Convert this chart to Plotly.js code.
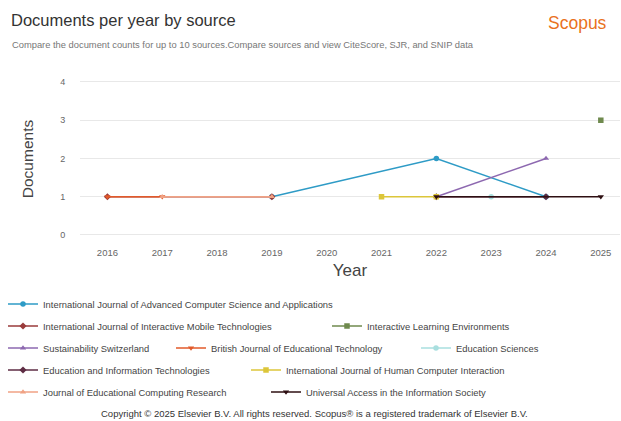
<!DOCTYPE html>
<html>
<head>
<meta charset="utf-8">
<script src="https://cdn.plot.ly/plotly-3.0.1.min.js"></script>
<style>
html,body{margin:0;padding:0;background:#fff;}
#chart{width:621px;height:421px;}
</style>
</head>
<body>
<div id="chart"></div>
<script>
const years = [2016, 2017, 2018, 2019, 2020, 2021, 2022, 2023, 2024, 2025];
const sourceNames = [
  "International Journal of Advanced Computer Science and Applications",
  "International Journal of Interactive Mobile Technologies",
  "Interactive Learning Environments",
  "Sustainability Switzerland",
  "British Journal of Educational Technology",
  "Education Sciences",
  "Education and Information Technologies",
  "International Journal of Human Computer Interaction",
  "Journal of Educational Computing Research",
  "Universal Access in the Information Society"
];
const ijacsaDocs = [null, null, null, 1, null, null, 2, null, 1, null];
const ijimtDocs  = [1, null, null, 1, null, null, null, null, null, null];
const ileDocs    = [null, null, null, null, null, null, null, null, null, 3];
const sustDocs   = [null, null, null, null, null, null, 1, null, 2, null];
const bjetDocs   = [1, 1, null, null, null, null, null, null, null, null];
const edusciDocs = [null, null, null, null, null, null, null, 1, null, null];
const eitDocs    = [null, null, null, null, null, null, 1, null, 1, null];
const ijhciDocs  = [null, null, null, null, null, 1, 1, null, null, null];
const jecrDocs   = [null, 1, null, 1, null, null, null, null, null, null];
const uaisDocs   = [null, null, null, null, null, null, 1, null, null, 1];
const seriesDocs = [ijacsaDocs, ijimtDocs, ileDocs, sustDocs, bjetDocs, edusciDocs, eitDocs, ijhciDocs, jecrDocs, uaisDocs];

const colors = ["#2e9bc6", "#9a3b3b", "#6f8a4e", "#8d68b0", "#e25a2a", "#a9dfdf", "#5e2c44", "#dcc63a", "#f0a284", "#2e0f12"];
const symbols = ["circle", "diamond", "square", "triangle-up", "triangle-down", "circle", "diamond", "square", "triangle-up", "triangle-down"];

// legend placement (pixel): [textStartX, rowCenterY]
const legendPos = [[47,304],[47,326],[371,326],[47,348],[215,348],[460,348],[47,370],[290,370],[47,392],[310,392]];

const W = 621, H = 421;
const mL = 80, mR = 1, mT = 77, mB = 180;
const pw = W - mL - mR, ph = H - mT - mB;

const traces = seriesDocs.map((d, i) => ({
  type: "scatter",
  mode: "lines+markers",
  x: years,
  y: d,
  name: sourceNames[i],
  connectgaps: true,
  line: {color: colors[i], width: 1.5},
  marker: {color: colors[i], symbol: symbols[i], size: 5.5},
  legend: i === 0 ? "legend" : "legend" + (i + 1)
}));

const layout = {
  width: W, height: H,
  margin: {l: mL, r: mR, t: mT, b: mB, pad: 0},
  paper_bgcolor: "#fff", plot_bgcolor: "#fff",
  font: {family: "Liberation Sans, Arial, sans-serif", color: "#555"},
  showlegend: true,
  xaxis: {
    range: [2015.5, 2025.35],
    tickmode: "array", tickvals: years, ticktext: years.map(String),
    showgrid: false, zeroline: false, showline: false,
    ticks: "outside", ticklen: 3, tickcolor: "rgba(0,0,0,0)",
    tickfont: {size: 9.5, color: "#666"},
    title: {text: "Year", font: {size: 17, color: "#444"}, standoff: 6},
    fixedrange: true
  },
  yaxis: {
    range: [-0.157, 4.13],
    tickvals: [0, 1, 2, 3, 4],
    showgrid: true, gridcolor: "#e8e8e8", gridwidth: 1,
    zeroline: false, showline: false,
    ticks: "outside", ticklen: 12, tickcolor: "rgba(0,0,0,0)",
    tickfont: {size: 9, color: "#666"},
    title: {text: "Documents", font: {size: 15.5, color: "#444"}, standoff: 22},
    fixedrange: true
  },
  annotations: [
    {xref: "paper", yref: "paper", x: (9 - mL) / pw, y: (H - mB - 20) / ph, xanchor: "left", yanchor: "middle",
     text: "Documents per year by source", showarrow: false, font: {size: 16.5, color: "#333"}},
    {xref: "paper", yref: "paper", x: (10 - mL) / pw, y: (H - mB - 45) / ph, xanchor: "left", yanchor: "middle",
     text: "Compare the document counts for up to 10 sources.Compare sources and view CiteScore, SJR, and SNIP data",
     showarrow: false, font: {size: 9.35, color: "#777"}},
    {xref: "paper", yref: "paper", x: (609 - mL) / pw, y: (H - mB - 23) / ph, xanchor: "right", yanchor: "middle",
     text: "Scopus", showarrow: false, font: {size: 17.5, color: "#e9711c"}},
    {xref: "paper", yref: "paper", x: (314 - mL) / pw, y: (H - mB - 413) / ph, xanchor: "center", yanchor: "middle",
     text: "Copyright © 2025 Elsevier B.V. All rights reserved. Scopus® is a registered trademark of Elsevier B.V.",
     showarrow: false, font: {size: 9.5, color: "#333"}}
  ]
};

legendPos.forEach((p, i) => {
  const key = i === 0 ? "legend" : "legend" + (i + 1);
  layout[key] = {
    orientation: "h",
    x: (p[0] - 44 - mL) / pw,
    y: (H - mB - p[1]) / ph,
    xanchor: "left", yanchor: "middle",
    bgcolor: "rgba(0,0,0,0)", borderwidth: 0,
    font: {size: 9.4, color: "#444"},
    itemwidth: 30
  };
});

Plotly.newPlot("chart", traces, layout, {displayModeBar: false, staticPlot: true});
</script>
</body>
</html>
